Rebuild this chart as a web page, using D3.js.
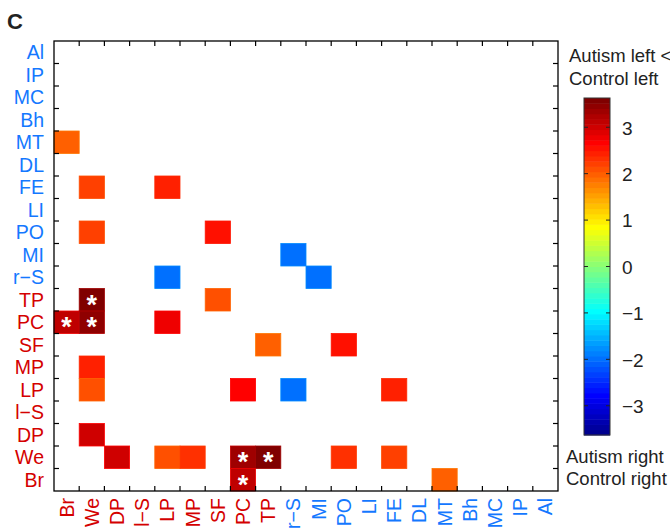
<!DOCTYPE html>
<html>
<head>
<meta charset="UTF-8">
<script src="https://d3js.org/d3.v7.min.js"></script>
<style>
  body { margin: 0; background: #fff; }
  svg { font-family: "Liberation Sans", Arial, Helvetica, sans-serif; }
  .lab { font-size: 19.5px; }
  .note { font-size: 18.5px; fill: #222; }
</style>
</head>
<body>
<svg id="chart" width="670" height="529"></svg>
<script>
// regions along the x axis (left to right); rows use the reverse order
var columns = ['Br', 'We', 'DP', 'l\u2212S', 'LP', 'MP', 'SF', 'PC', 'TP',
               'r\u2212S', 'MI', 'PO', 'LI', 'FE', 'DL', 'MT', 'Bh', 'MC', 'IP', 'Al'];
var rows = columns.slice().reverse();
// the first nine regions are drawn in red, the rest in blue
var redRegions = ['Br', 'We', 'DP', 'l\u2212S', 'LP', 'MP', 'SF', 'PC', 'TP'];

// non-empty cells: row label, column label, value
var cellRows = ['MT', 'FE', 'FE', 'PO', 'PO', 'MI', 'r\u2212S', 'r\u2212S', 'TP', 'TP',
                'PC', 'PC', 'PC', 'SF', 'SF', 'MP', 'LP', 'LP', 'LP', 'LP',
                'DP', 'We', 'We', 'We', 'We', 'We', 'We', 'We', 'Br', 'Br'];
var cellCols = ['Br', 'We', 'LP', 'We', 'SF', 'r\u2212S', 'LP', 'MI', 'We', 'SF',
                'Br', 'We', 'LP', 'TP', 'PO', 'We', 'We', 'PC', 'r\u2212S', 'FE',
                'We', 'DP', 'LP', 'MP', 'PC', 'TP', 'PO', 'FE', 'PC', 'MT'];
var cellValues = [2.0, 2.2, 2.45, 2.2, 2.6, -1.95, -1.95, -1.95, 3.55, 2.1,
                  3.1, 3.45, 2.75, 2.0, 2.55, 2.45, 2.1, 2.65, -1.95, 2.45,
                  3.0, 3.0, 2.1, 2.35, 3.4, 3.6, 2.35, 2.2, 3.1, 2.0];
var cellStar = [0, 0, 0, 0, 0, 0, 0, 0, 1, 0,
                1, 1, 0, 0, 0, 0, 0, 0, 0, 0,
                0, 0, 0, 0, 1, 1, 0, 0, 1, 0];

var cbTicks = [-3, -2, -1, 0, 1, 2, 3];
var cbLimit = 3.63;

var red = '#d40000', blue = '#1478ff';

// matlab jet(64)
function jet(m) {
    var n = Math.ceil(m / 4), u = [], out = [];
    for (var i = 1; i <= n; i++) u.push(i / n);
    for (var i = 1; i < n; i++) u.push(1);
    for (var i = n; i >= 1; i--) u.push(i / n);
    var g0 = Math.ceil(n / 2) - (m % 4 == 1 ? 1 : 0);
    for (var k = 0; k < m; k++) {
        var gi = k + 1 - g0 - 1, ri = gi - n, bi = gi + n;
        var r = (ri >= 0 && ri < u.length) ? u[ri] : 0;
        var g = (gi >= 0 && gi < u.length) ? u[gi] : 0;
        var b = (bi >= 0 && bi < u.length) ? u[bi] : 0;
        out.push(d3.rgb(r * 255, g * 255, b * 255).formatHex());
    }
    return out;
}
var jetColors = jet(64);

var svg = d3.select('#chart');

var x = d3.scaleBand().domain(columns).range([54, 558]);
var y = d3.scaleBand().domain(rows).range([41, 491]);
var color = d3.scaleQuantize().domain([-cbLimit, cbLimit]).range(jetColors);

var cells = cellRows.map(function(r, i) {
    return { r: r, c: cellCols[i], v: cellValues[i], star: cellStar[i] };
});

// cells
svg.append('g').selectAll('rect')
    .data(cells)
    .join('rect')
    .attr('x', function(d) { return x(d.c); })
    .attr('y', function(d) { return y(d.r); })
    .attr('width', x.bandwidth())
    .attr('height', y.bandwidth())
    .style('fill', function(d) { return color(d.v); })
    .style('stroke', function(d) { return d3.color(color(d.v)).brighter(0.6); })
    .style('stroke-width', 0.8);

svg.append('g').selectAll('text')
    .data(cells.filter(function(d) { return d.star; }))
    .join('text')
    .attr('x', function(d) { return x(d.c) + x.bandwidth() / 2; })
    .attr('y', function(d) { return y(d.r) + y.bandwidth() / 2 + 14; })
    .attr('text-anchor', 'middle')
    .style('fill', '#fff')
    .style('font-size', '27px')
    .style('font-weight', 'bold')
    .text('*');

// frame with ticks at the cell borders
svg.append('rect')
    .attr('x', 54).attr('y', 41).attr('width', 504).attr('height', 450)
    .style('fill', 'none').style('stroke', '#000').style('stroke-width', 1.3);

var xb = columns.slice(1).map(function(c) { return x(c); });
var yb = rows.slice(1).map(function(r) { return y(r); });
var tk = svg.append('g').style('stroke', '#000').style('stroke-width', 1.2);
xb.forEach(function(v) {
    tk.append('line').attr('x1', v).attr('x2', v).attr('y1', 491).attr('y2', 486);
    tk.append('line').attr('x1', v).attr('x2', v).attr('y1', 41).attr('y2', 46);
});
yb.forEach(function(v) {
    tk.append('line').attr('x1', 54).attr('x2', 59).attr('y1', v).attr('y2', v);
    tk.append('line').attr('x1', 558).attr('x2', 553).attr('y1', v).attr('y2', v);
});

// row labels
var yAxis = d3.axisLeft(y).tickSize(0).tickPadding(10);
var gy = svg.append('g').attr('transform', 'translate(54,0)').call(yAxis);
gy.select('.domain').remove();
gy.selectAll('text')
    .attr('class', 'lab')
    .attr('dy', '0.36em')
    .style('fill', function(d) { return redRegions.indexOf(d) >= 0 ? red : blue; });

// column labels
var xAxis = d3.axisBottom(x).tickSize(0).tickPadding(0);
var gx = svg.append('g').attr('transform', 'translate(0,491)').call(xAxis);
gx.select('.domain').remove();
gx.selectAll('text')
    .attr('class', 'lab')
    .attr('text-anchor', 'end')
    .attr('transform', 'rotate(-90)')
    .attr('x', -7)
    .attr('y', 0)
    .attr('dy', '0.36em')
    .style('fill', function(d) { return redRegions.indexOf(d) >= 0 ? red : blue; });

// colorbar
var cbY = d3.scaleLinear().domain([-cbLimit, cbLimit]).range([435, 98]);
var step = 2 * cbLimit / jetColors.length;
svg.append('g').selectAll('rect')
    .data(jetColors)
    .join('rect')
    .attr('x', 584)
    .attr('width', 26)
    .attr('y', function(d, i) { return cbY(-cbLimit + (i + 1) * step); })
    .attr('height', function(d, i) { return cbY(-cbLimit + i * step) - cbY(-cbLimit + (i + 1) * step) + 0.5; })
    .style('fill', function(d) { return d; });

svg.append('rect')
    .attr('x', 584).attr('y', 98).attr('width', 26).attr('height', 337)
    .style('fill', 'none').style('stroke', '#333').style('stroke-width', 1);

var cbt = svg.append('g').style('stroke', '#222').style('stroke-width', 1);
cbTicks.forEach(function(t) {
    cbt.append('line').attr('x1', 584).attr('x2', 588).attr('y1', cbY(t)).attr('y2', cbY(t));
    cbt.append('line').attr('x1', 610).attr('x2', 606).attr('y1', cbY(t)).attr('y2', cbY(t));
});

var cbAxis = d3.axisRight(cbY).tickValues(cbTicks).tickSize(0).tickPadding(12)
    .tickFormat(function(d) { return d < 0 ? '\u2212' + Math.abs(d) : d; });
var gc = svg.append('g').attr('transform', 'translate(610,0)').call(cbAxis);
gc.select('.domain').remove();
gc.selectAll('text').style('font-size', '19px').style('fill', '#222').attr('dy', '0.36em');

// annotations
svg.append('text').attr('class', 'note').attr('x', 569).attr('y', 62).text('Autism left <');
svg.append('text').attr('class', 'note').attr('x', 569).attr('y', 85).text('Control left');
svg.append('text').attr('class', 'note').attr('x', 566).attr('y', 463).text('Autism right');
svg.append('text').attr('class', 'note').attr('x', 566).attr('y', 485).text('Control right');

svg.append('text')
    .attr('x', 7).attr('y', 29)
    .style('font-size', '22px').style('font-weight', 'bold').style('fill', '#222')
    .text('C');
</script>
</body>
</html>
